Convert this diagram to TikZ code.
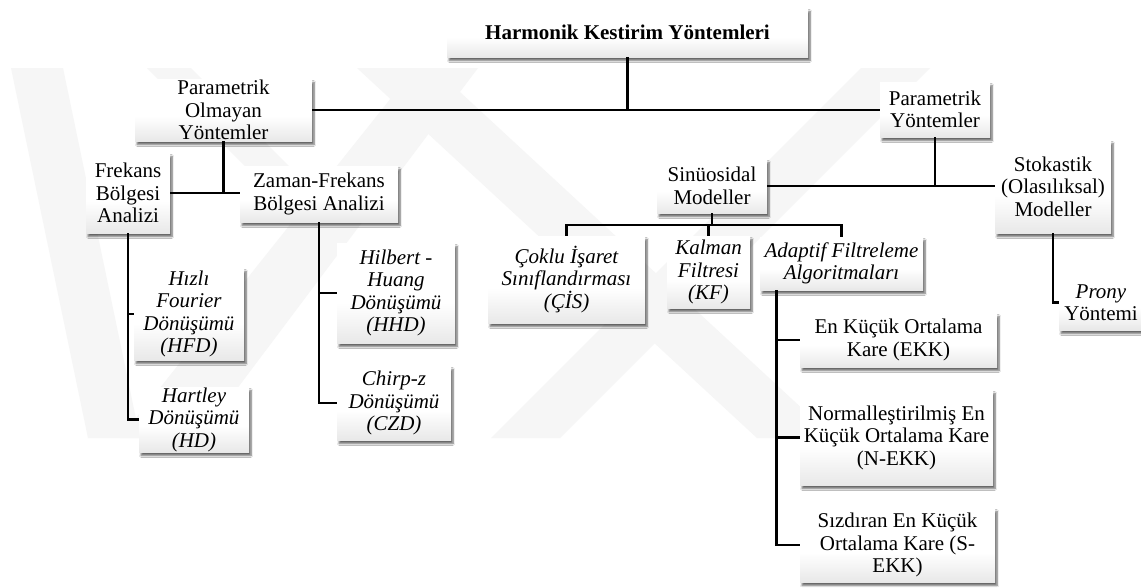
\documentclass[tikz,border=0pt]{standalone}
\usepackage{fontspec}
\setmainfont{Liberation Serif}
\usetikzlibrary{shadows.blur}

% white on top, fading to light grey near the bottom edge
\pgfdeclareverticalshading{boxfade}{100bp}{color(0bp)=(black!20); color(45bp)=(white); color(100bp)=(white)}

\tikzset{
  box/.style={shading=boxfade, align=center, inner sep=0pt,
    font=\fontsize{21}{22.5}\selectfont,
    blur shadow={shadow xshift=2pt, shadow yshift=-3.5pt, shadow blur steps=6, shadow opacity=60}},
  ibox/.style={box, font=\fontsize{21}{22.5}\selectfont\itshape},
  wh/.style 2 args={minimum width=#1pt, minimum height=#2pt},
  link/.style={draw=black, line width=2.9pt},
  mark band/.style={fill=black!3.5}
}

\begin{document}
\begin{tikzpicture}[x=1pt,y=-1pt]
\fill[white] (0,0) rectangle (1141,587);
\useasboundingbox (0,0) rectangle (1141,587);

% faint logo in the background
\fill[mark band] (11,68) -- (63,68) -- (140,438) -- (88,438) -- cycle;
\fill[mark band] (120,438) -- (200,438) -- (478,68) -- (415,68) -- cycle;
\fill[mark band] (147,68) -- (191,68) -- (315.6,192.6) -- (296,217) -- cycle;
\fill[mark band] (357,68) -- (434,68) -- (834,438) -- (757,438) -- cycle;
\fill[mark band] (491,438) -- (560,438) -- (930,68) -- (861,68) -- cycle;

% boxes
\node[box, wh={361}{49}, font=\fontsize{21}{22}\selectfont\bfseries] (title) at (627.5,32.5) {Harmonik Kestirim Yöntemleri};
\node[box, wh={177}{62}] (po) at (223.5,110) {Parametrik\\Olmayan\\Yöntemler};
\node[box, wh={110}{55}] (py) at (935,109.5) {Parametrik\\Yöntemler};
\node[box, wh={84}{80}] (fb) at (128,193) {Frekans\\Bölgesi\\Analizi};
\node[box, wh={158}{56}] (zf) at (319,194) {Zaman-Frekans\\Bölgesi Analizi};
\node[ibox, wh={110}{92}] (hfd) at (189,314) {Hızlı\\Fourier\\Dönüşümü\\(HFD)};
\node[ibox, wh={110}{65}] (hd) at (194,419.5) {Hartley\\Dönüşümü\\(HD)};
\node[ibox, wh={118}{100}] (hhd) at (396,293) {Hilbert -\\Huang\\Dönüşümü\\(HHD)};
\node[ibox, wh={114}{74}] (czd) at (394,403) {Chirp-z\\Dönüşümü\\(CZD)};
\node[box, wh={110}{54}] (sin) at (712,186) {Sinüosidal\\Modeller};
\node[box, wh={116}{93}] (sto) at (1053,186.5) {Stokastik\\(Olasılıksal)\\Modeller};
\node[ibox, wh={157}{87}] (cis) at (566.5,279.5) {Çoklu İşaret\\Sınıflandırması\\(ÇİS)};
\node[ibox, wh={83}{72}] (kf) at (708.5,272) {Kalman\\Filtresi\\(KF)};
\node[ibox, wh={163}{53}] (ada) at (841.5,263.5) {Adaptif Filtreleme\\Algoritmaları};
\node[box, wh={84}{55}] (prony) at (1101,302.5) {\textit{Prony}\\Yöntemi};
\node[box, wh={197}{54}] (ekk) at (898.5,340) {En Küçük Ortalama\\Kare (EKK)};
\node[box, wh={193}{95}] (nekk) at (896.5,437.5) {Normalleştirilmiş En\\Küçük Ortalama Kare\\(N-EKK)};
\node[box, wh={195}{74}] (sekk) at (897.5,545) {Sızdıran En Küçük\\Ortalama Kare (S-\\EKK)};

% connectors
\draw[link] (title.south) -- (title.south |- po.east);
\draw[link] (po.east) -- (po.east -| py.west);

\draw[link] (po.south) -- (po.south |- fb.east);
\draw[link] (fb.east) -- (fb.east -| zf.west);

\draw[link] (fb.south) |- (hd.west);
\draw[link] (fb.south |- hfd.west) -- (hfd.west);

\draw[link] (zf.south) |- (czd.west);
\draw[link] (zf.south |- hhd.west) -- (hhd.west);

\draw[link] (py.south) -- (py.south |- sin.east);
\draw[link] (sin.east) -- (sin.east -| sto.west);
\draw[link] (sto.south) |- (prony.west);

\coordinate (sbus) at (712,225);
\draw[link] (sin.south) -- (sbus);
\draw[link] (cis.north) |- (ada.north |- sbus) -- (ada.north);
\draw[link] (kf.north) -- (kf.north |- sbus);

\draw[link] ([xshift=17pt]ada.south west) |- (sekk.west);
\draw[link] ([xshift=17pt]ada.south west |- ekk.west) -- (ekk.west);
\draw[link] ([xshift=17pt]ada.south west |- nekk.west) -- (nekk.west);
\end{tikzpicture}
\end{document}
